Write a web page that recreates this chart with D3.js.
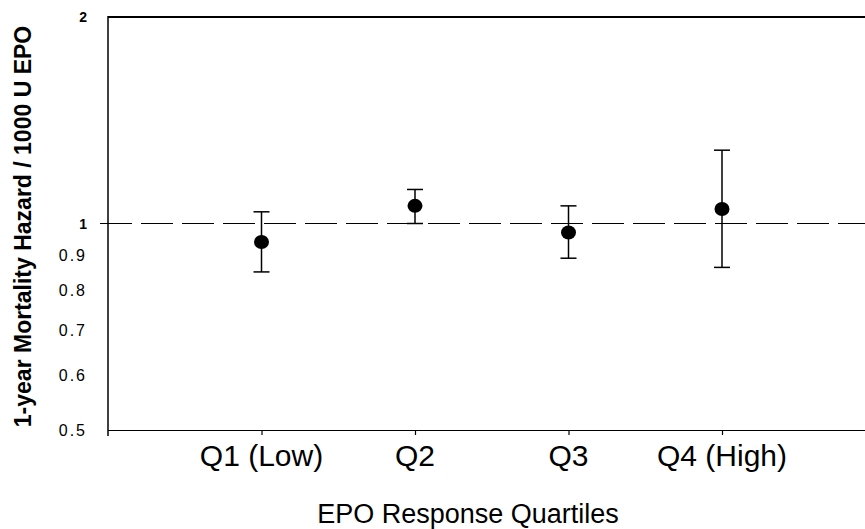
<!DOCTYPE html>
<html>
<head>
<meta charset="utf-8">
<script src="https://cdn.jsdelivr.net/npm/d3@7"></script>
<style>
  html, body { margin: 0; padding: 0; background: #fff; }
  svg { display: block; font-family: "Liberation Sans", Arial, sans-serif; }
</style>
</head>
<body>
<div id="chart"></div>
<script>
// Values
const quartiles = ["Q1 (Low)", "Q2", "Q3", "Q4 (High)"];
const hazard = [0.940, 1.061, 0.970, 1.050];
const lower = [0.850, 1.000, 0.890, 0.863];
const upper = [1.040, 1.121, 1.061, 1.279];
const yTicks = [0.5, 0.6, 0.7, 0.8, 0.9, 1, 2];
const majorTicks = [1, 2];

const width = 865, height = 529;
const plotLeft = 108, plotTop = 17, plotBottom = 430;

const svg = d3.select("#chart").append("svg")
    .attr("width", width)
    .attr("height", height);

// x: the plot runs past the right edge of the picture
const x = d3.scalePoint()
    .domain(quartiles)
    .range([plotLeft, plotLeft + 5 * 153.5])
    .padding(1);

const y = d3.scaleLog()
    .base(2)
    .domain([0.5, 2])
    .range([plotBottom, plotTop]);

// frame
svg.append("line")
    .attr("x1", plotLeft).attr("x2", width)
    .attr("y1", plotTop).attr("y2", plotTop)
    .attr("stroke", "#000").attr("stroke-width", 2);

svg.append("line")
    .attr("x1", plotLeft).attr("x2", plotLeft)
    .attr("y1", plotTop - 1).attr("y2", plotBottom + 6)
    .attr("stroke", "#000").attr("stroke-width", 1.5);

// bottom axis with small ticks under each quartile
const xAxis = d3.axisBottom(x).tickSize(5).tickSizeOuter(0).tickFormat("");
const gx = svg.append("g")
    .attr("transform", `translate(0,${plotBottom})`)
    .call(xAxis);
gx.select(".domain").attr("d", `M${plotLeft},0.5H${width}`).attr("stroke-width", 1.2);
gx.selectAll(".tick line").attr("stroke-width", 1.2);

svg.append("g")
    .selectAll("text")
    .data(quartiles)
    .join("text")
    .attr("x", d => x(d))
    .attr("y", 466)
    .attr("text-anchor", "middle")
    .attr("font-size", 30)
    .text(d => d);

// y labels (no tick marks on the axis)
svg.append("g")
    .selectAll("text")
    .data(yTicks)
    .join("text")
    .attr("x", 87)
    .attr("y", d => y(d))
    .attr("dy", "0.36em")
    .attr("text-anchor", "end")
    .attr("font-size", d => majorTicks.includes(d) ? 14 : 16)
    .attr("font-weight", d => majorTicks.includes(d) ? "bold" : "normal")
    .attr("letter-spacing", d => majorTicks.includes(d) ? 0 : 2)
    .text(d => d);

// reference line at hazard = 1
svg.append("line")
    .attr("x1", 100).attr("x2", width)
    .attr("y1", y(1)).attr("y2", y(1))
    .attr("stroke", "#000")
    .attr("stroke-width", 1.2)
    .attr("stroke-dasharray", "32,9");

// error bars
const bars = svg.append("g")
    .selectAll("g")
    .data(quartiles)
    .join("g");

bars.append("line")
    .attr("x1", d => x(d)).attr("x2", d => x(d))
    .attr("y1", (d, i) => y(upper[i]))
    .attr("y2", (d, i) => y(lower[i]))
    .attr("stroke", "#000").attr("stroke-width", 1.5);

bars.append("line")
    .attr("x1", d => x(d) - 8).attr("x2", d => x(d) + 8)
    .attr("y1", (d, i) => y(upper[i])).attr("y2", (d, i) => y(upper[i]))
    .attr("stroke", "#000").attr("stroke-width", 1.5);

bars.append("line")
    .attr("x1", d => x(d) - 8).attr("x2", d => x(d) + 8)
    .attr("y1", (d, i) => y(lower[i])).attr("y2", (d, i) => y(lower[i]))
    .attr("stroke", "#000").attr("stroke-width", 1.5);

bars.append("ellipse")
    .attr("cx", d => x(d))
    .attr("cy", (d, i) => y(hazard[i]))
    .attr("rx", 7.5).attr("ry", 7)
    .attr("fill", "#000");

// axis titles
svg.append("text")
    .attr("x", 468)
    .attr("y", 523)
    .attr("text-anchor", "middle")
    .attr("font-size", 27)
    .text("EPO Response Quartiles");

svg.append("text")
    .attr("transform", "translate(31,226.5) rotate(-90)")
    .attr("text-anchor", "middle")
    .attr("font-size", 23)
    .attr("font-weight", "bold")
    .text("1-year Mortality Hazard / 1000 U EPO");
</script>
</body>
</html>
